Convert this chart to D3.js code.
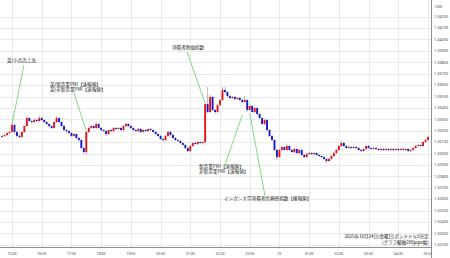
<!DOCTYPE html>
<html><head><meta charset="utf-8">
<script src="https://cdn.jsdelivr.net/npm/d3@7"></script>
<style>html,body{margin:0;padding:0;background:#fff;}svg{display:block;}</style>
</head><body>
<svg id="chart" width="450" height="258"></svg>
<script>
// GBP/USD 5-minute candles, 2025-10-24 14:40 to 2025-10-25 05:00 (JST)
const firstCandleMinute = -20;   // minutes relative to 15:00
const candleStep = 5;

const opens = [
1.33145,1.33154,1.33162,1.33180,1.33189,1.33250,1.33189,1.33154,1.33145,1.33189,
1.33241,1.33311,1.33285,1.33276,1.33294,1.33285,1.33311,1.33294,1.33276,1.33259,
1.33241,1.33224,1.33276,1.33311,1.33276,1.33241,1.33206,1.33197,1.33180,1.33154,
1.33171,1.33136,1.33118,1.33048,1.33013,1.33189,1.33224,1.33241,1.33224,1.33259,
1.33224,1.33206,1.33197,1.33171,1.33206,1.33197,1.33224,1.33215,1.33224,1.33206,
1.33241,1.33259,1.33241,1.33224,1.33206,1.33197,1.33215,1.33189,1.33206,1.33197,
1.33215,1.33206,1.33189,1.33171,1.33154,1.33127,1.33118,1.33154,1.33189,1.33162,
1.33136,1.33118,1.33110,1.33092,1.33075,1.33048,1.33022,1.33066,1.33092,1.33083,
1.33101,1.33092,1.33101,1.33434,1.33364,1.33496,1.33382,1.33364,1.33425,1.33469,
1.33557,1.33539,1.33504,1.33487,1.33496,1.33478,1.33487,1.33469,1.33452,1.33469,
1.33382,1.33417,1.33364,1.33399,1.33346,1.33311,1.33259,1.33294,1.33206,1.33154,
1.33118,1.33031,1.32969,1.33031,1.33057,1.33031,1.33066,1.33031,1.33013,1.33040,
1.33004,1.33031,1.32987,1.32969,1.32996,1.33004,1.32996,1.33004,1.32987,1.32978,
1.32969,1.32952,1.32934,1.32952,1.32978,1.33004,1.33031,1.33066,1.33092,1.33066,
1.33048,1.33057,1.33048,1.33057,1.33048,1.33031,1.33022,1.33040,1.33066,1.33048,
1.33040,1.33048,1.33040,1.33031,1.33040,1.33031,1.33040,1.33031,1.33040,1.33031,
1.33040,1.33031,1.33040,1.33031,1.33040,1.33022,1.33031,1.33048,1.33066,1.33075,
1.33066,1.33101,1.33118
];
const highs = [
1.33162,1.33171,1.33189,1.33197,1.33259,1.33259,1.33197,1.33171,1.33197,1.33250,
1.33329,1.33320,1.33294,1.33311,1.33303,1.33329,1.33320,1.33303,1.33285,1.33267,
1.33250,1.33285,1.33329,1.33320,1.33285,1.33250,1.33215,1.33206,1.33189,1.33180,
1.33180,1.33145,1.33127,1.33057,1.33197,1.33232,1.33250,1.33250,1.33276,1.33267,
1.33232,1.33215,1.33206,1.33215,1.33215,1.33232,1.33232,1.33232,1.33232,1.33250,
1.33267,1.33267,1.33250,1.33232,1.33215,1.33224,1.33224,1.33215,1.33215,1.33224,
1.33224,1.33215,1.33197,1.33180,1.33162,1.33136,1.33162,1.33197,1.33197,1.33171,
1.33145,1.33127,1.33118,1.33101,1.33083,1.33057,1.33075,1.33101,1.33101,1.33110,
1.33110,1.33110,1.33443,1.33583,1.33513,1.33504,1.33390,1.33434,1.33478,1.33583,
1.33583,1.33548,1.33513,1.33504,1.33504,1.33496,1.33496,1.33478,1.33504,1.33478,
1.33425,1.33425,1.33408,1.33408,1.33355,1.33320,1.33303,1.33303,1.33215,1.33162,
1.33127,1.33040,1.33040,1.33066,1.33066,1.33083,1.33075,1.33040,1.33048,1.33048,
1.33040,1.33040,1.32996,1.33004,1.33013,1.33013,1.33013,1.33013,1.32996,1.32987,
1.32978,1.32961,1.32961,1.32987,1.33013,1.33040,1.33075,1.33110,1.33101,1.33075,
1.33066,1.33066,1.33066,1.33066,1.33057,1.33040,1.33048,1.33075,1.33075,1.33057,
1.33057,1.33057,1.33048,1.33048,1.33048,1.33048,1.33048,1.33048,1.33048,1.33048,
1.33048,1.33048,1.33048,1.33048,1.33048,1.33040,1.33057,1.33075,1.33083,1.33083,
1.33110,1.33127,1.33154
];
const lows = [
1.33136,1.33145,1.33154,1.33171,1.33180,1.33171,1.33136,1.33127,1.33136,1.33180,
1.33232,1.33276,1.33259,1.33267,1.33276,1.33276,1.33285,1.33267,1.33250,1.33232,
1.33215,1.33215,1.33267,1.33267,1.33232,1.33197,1.33180,1.33171,1.33145,1.33145,
1.33127,1.33101,1.33040,1.32996,1.32987,1.33180,1.33215,1.33215,1.33215,1.33215,
1.33197,1.33189,1.33154,1.33162,1.33189,1.33189,1.33206,1.33206,1.33197,1.33197,
1.33232,1.33232,1.33215,1.33197,1.33189,1.33189,1.33180,1.33180,1.33189,1.33189,
1.33197,1.33180,1.33162,1.33145,1.33118,1.33101,1.33110,1.33145,1.33154,1.33127,
1.33110,1.33101,1.33083,1.33066,1.33040,1.33013,1.33013,1.33057,1.33075,1.33075,
1.33083,1.33083,1.33075,1.33355,1.33355,1.33373,1.33346,1.33355,1.33417,1.33461,
1.33531,1.33496,1.33478,1.33478,1.33469,1.33469,1.33461,1.33443,1.33443,1.33364,
1.33373,1.33355,1.33355,1.33338,1.33303,1.33250,1.33250,1.33197,1.33145,1.33110,
1.33022,1.32943,1.32961,1.33022,1.33022,1.33022,1.33022,1.33004,1.33004,1.32996,
1.32996,1.32978,1.32961,1.32961,1.32987,1.32987,1.32987,1.32978,1.32969,1.32961,
1.32943,1.32917,1.32925,1.32943,1.32969,1.32996,1.33022,1.33057,1.33057,1.33040,
1.33040,1.33040,1.33040,1.33040,1.33022,1.33013,1.33013,1.33031,1.33040,1.33031,
1.33031,1.33031,1.33022,1.33022,1.33022,1.33022,1.33022,1.33022,1.33022,1.33022,
1.33022,1.33022,1.33022,1.33022,1.33013,1.33013,1.33022,1.33040,1.33057,1.33057,
1.33057,1.33092,1.33110
];
const closes = [
1.33154,1.33162,1.33180,1.33189,1.33250,1.33189,1.33154,1.33145,1.33189,1.33241,
1.33311,1.33285,1.33276,1.33294,1.33285,1.33311,1.33294,1.33276,1.33259,1.33241,
1.33224,1.33276,1.33311,1.33276,1.33241,1.33206,1.33197,1.33180,1.33154,1.33171,
1.33136,1.33118,1.33048,1.33013,1.33189,1.33224,1.33241,1.33224,1.33259,1.33224,
1.33206,1.33197,1.33171,1.33206,1.33197,1.33224,1.33215,1.33224,1.33206,1.33241,
1.33259,1.33241,1.33224,1.33206,1.33197,1.33215,1.33189,1.33206,1.33197,1.33215,
1.33206,1.33189,1.33171,1.33154,1.33127,1.33118,1.33154,1.33189,1.33162,1.33136,
1.33118,1.33110,1.33092,1.33075,1.33048,1.33022,1.33066,1.33092,1.33083,1.33101,
1.33092,1.33101,1.33434,1.33364,1.33496,1.33382,1.33364,1.33425,1.33469,1.33557,
1.33539,1.33504,1.33487,1.33496,1.33478,1.33487,1.33469,1.33452,1.33469,1.33382,
1.33417,1.33364,1.33399,1.33346,1.33311,1.33259,1.33294,1.33206,1.33154,1.33118,
1.33031,1.32969,1.33031,1.33057,1.33031,1.33066,1.33031,1.33013,1.33040,1.33004,
1.33031,1.32987,1.32969,1.32996,1.33004,1.32996,1.33004,1.32987,1.32978,1.32969,
1.32952,1.32934,1.32952,1.32978,1.33004,1.33031,1.33066,1.33092,1.33066,1.33048,
1.33057,1.33048,1.33057,1.33048,1.33031,1.33022,1.33040,1.33066,1.33048,1.33040,
1.33048,1.33040,1.33031,1.33040,1.33031,1.33040,1.33031,1.33040,1.33031,1.33040,
1.33031,1.33040,1.33031,1.33040,1.33022,1.33031,1.33048,1.33066,1.33075,1.33066,
1.33101,1.33118,1.33145
];

// axis labels
const priceTickLabels = ["1.34200","1.34100","1.34000","1.33900","1.33800","1.33700","1.33600",
  "1.33500","1.33400","1.33300","1.33200","1.33100","1.33000","1.32900","1.32800","1.32700",
  "1.32600","1.32500","1.32400","1.32300","1.32200"];
const hourTickLabels = ["15:00","16:00","17:00","18:00","19:00","20:00","21:00","22:00",
  "23:00","25","01:00","02:00","03:00","04:00","05:00"];

// economic releases: candle index of the release and the callout text
const eventCandles = [4, 34, 82, 97, 100];
const eventTexts = [
  ["英)小売売上高"],
  ["英)製造業PMI【速報値】", "英)非製造業PMI【速報値】"],
  ["消費者物価指数"],
  ["製造業PMI【速報値】", "非製造業PMI【速報値】"],
  ["ミシガン大学消費者信頼感指数【確報値】"]
];
const captionLines = ["2025年10月24日(金曜日)ポンドドル5分足", "(グラフ縦軸200pips幅)"];

// ---------------------------------------------------------------
const svg = d3.select("#chart");
const plotRight = 431, plotBottom = 247;
const fontJP = "'Noto Sans CJK JP','Noto Sans',sans-serif";

const x = d3.scaleLinear().domain([0, 840]).range([12, 428]);          // minutes after 15:00
const y = d3.scaleLinear().domain([+priceTickLabels[20], +priceTickLabels[0]]).range([244.7, 16.7]);

svg.append("defs").append("clipPath").attr("id", "plotClip")
  .append("rect").attr("x", 0).attr("y", 0).attr("width", plotRight).attr("height", 258);

// grid
const grid = svg.append("g");
grid.selectAll("line.h").data(priceTickLabels).join("line")
  .attr("x1", 0).attr("x2", plotRight)
  .attr("y1", d => Math.round(y(+d)) + 0.5).attr("y2", d => Math.round(y(+d)) + 0.5)
  .attr("stroke", "#e9e9e9").attr("stroke-width", 1);
grid.selectAll("line.v").data(hourTickLabels).join("line")
  .attr("x1", (d, i) => Math.round(x(i * 60)) + 0.5).attr("x2", (d, i) => Math.round(x(i * 60)) + 0.5)
  .attr("y1", 0).attr("y2", plotBottom)
  .attr("stroke", "#e9e9e9").attr("stroke-width", 1);

// axes frame
svg.append("line").attr("x1", plotRight + 0.5).attr("x2", plotRight + 0.5)
  .attr("y1", 0).attr("y2", 258).attr("stroke", "#8f8f8f");
svg.append("line").attr("x1", 0).attr("x2", plotRight)
  .attr("y1", plotBottom + 0.5).attr("y2", plotBottom + 0.5).attr("stroke", "#8f8f8f");

// price labels on the right
const yAxis = svg.append("g").attr("font-family", "'Noto Sans',sans-serif").attr("font-size", 3.8).attr("fill", "#444");
yAxis.append("text").attr("x", 435).attr("y", 7.5).text("USD");
yAxis.selectAll("text.p").data(priceTickLabels).join("text")
  .attr("x", 434).attr("y", d => y(+d) + 1.3).text(d => d);

// time labels along the bottom
const xAxis = svg.append("g").attr("clip-path", "url(#plotClip)")
  .attr("font-family", "'Noto Sans',sans-serif").attr("font-size", 3.5).attr("fill", "#444")
  .attr("text-anchor", "middle");
xAxis.selectAll("text").data(hourTickLabels).join("text")
  .attr("x", (d, i) => x(i * 60)).attr("y", 254.5).text(d => d);

// candles
const candles = closes.map((c, i) => ({
  t: firstCandleMinute + i * candleStep, o: opens[i], h: highs[i], l: lows[i], c
}));
const cg = svg.append("g").attr("clip-path", "url(#plotClip)");
cg.selectAll("line").data(candles).join("line")
  .attr("x1", d => x(d.t)).attr("x2", d => x(d.t))
  .attr("y1", d => y(d.h)).attr("y2", d => y(d.l))
  .attr("stroke", "#888").attr("stroke-width", 0.6);
cg.selectAll("rect").data(candles).join("rect")
  .attr("x", d => x(d.t) - 0.95).attr("width", 1.9)
  .attr("y", d => y(Math.max(d.o, d.c)))
  .attr("height", d => Math.max(1, Math.abs(y(d.o) - y(d.c))))
  .attr("fill", d => d.c > d.o ? "#e8141b" : "#1818cc");

// release callouts
const callout = svg.append("g");
const labelPos = [[7, 62], [50, 86], [172, 49], [199, 168], [224, 199.5]];
const lineStart = [[24, 65], [74, 93], [187, 52], [225, 164.5], [265, 196]];
const lineEndY = [c => y(c.h), c => y(c.h), c => y(c.h), c => y(c.l) + 12, c => y(c.l) + 2];
eventCandles.forEach((ci, k) => {
  const c = candles[ci];
  callout.append("line")
    .attr("x1", lineStart[k][0]).attr("y1", lineStart[k][1])
    .attr("x2", x(c.t)).attr("y2", lineEndY[k](c))
    .attr("stroke", "#5fd35f").attr("stroke-width", 0.8);
  eventTexts[k].forEach((s, j) => {
    callout.append("text").attr("x", labelPos[k][0]).attr("y", labelPos[k][1] + j * 5.2)
      .attr("font-family", fontJP).attr("font-size", 4.6).attr("fill", "#222").text(s);
  });
});

// caption
svg.append("g").attr("font-family", fontJP).attr("font-size", 4.5).attr("fill", "#111")
  .attr("text-anchor", "end")
  .selectAll("text").data(captionLines).join("text")
  .attr("x", 428.5).attr("y", (d, i) => 237.5 + i * 6).text(d => d);
</script>
</body></html>
